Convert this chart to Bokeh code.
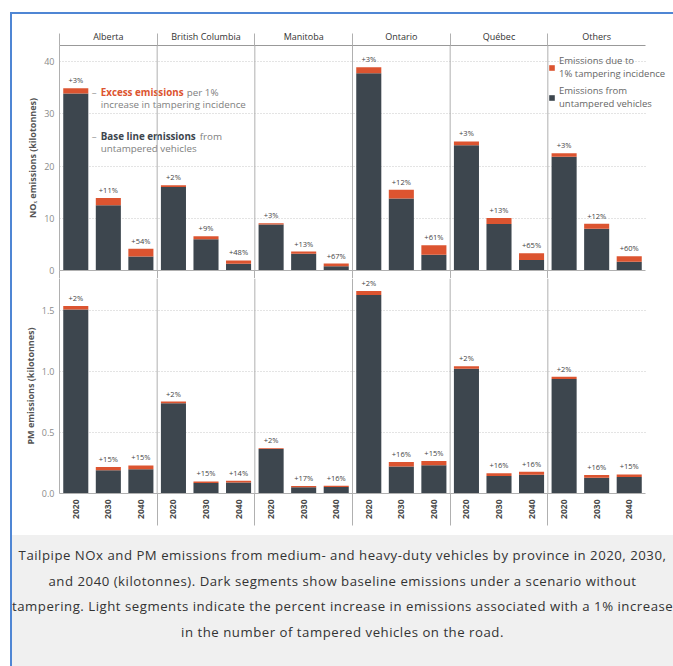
import math
from bokeh.plotting import figure
from bokeh.models import (Range1d, LinearAxis, FixedTicker, Span, PrintfTickFormatter,
                          Legend, LegendItem, Div, ColumnDataSource)
from bokeh.layouts import column
from bokeh.embed import file_html
from bokeh.resources import INLINE
from bokeh.core.properties import value

# ---------------- data ----------------
provinces = ["Alberta", "British Columbia", "Manitoba", "Ontario", "Québec", "Others"]
years = ["2020", "2030", "2040"]

nox_base = [33.9, 12.5, 2.7, 16.0, 6.0, 1.3, 8.8, 3.2, 0.8,
            37.8, 13.8, 3.0, 24.0, 8.9, 2.0, 21.8, 8.0, 1.7]
nox_excess = [1.0, 1.4, 1.46, 0.35, 0.55, 0.62, 0.27, 0.42, 0.52,
              1.13, 1.66, 1.83, 0.72, 1.15, 1.3, 0.65, 0.96, 1.02]
nox_pct = ["+3%", "+11%", "+54%", "+2%", "+9%", "+48%", "+3%", "+13%", "+67%",
           "+3%", "+12%", "+61%", "+3%", "+13%", "+65%", "+3%", "+12%", "+60%"]

pm_base = [1.51, 0.19, 0.20, 0.74, 0.086, 0.091, 0.365, 0.052, 0.054,
           1.63, 0.222, 0.232, 1.025, 0.144, 0.153, 0.94, 0.13, 0.135]
pm_excess = [0.03, 0.028, 0.03, 0.015, 0.013, 0.013, 0.007, 0.0088, 0.0087,
             0.033, 0.036, 0.035, 0.02, 0.023, 0.025, 0.019, 0.021, 0.021]
pm_pct = ["+2%", "+15%", "+15%", "+2%", "+15%", "+14%", "+2%", "+17%", "+16%",
          "+2%", "+16%", "+15%", "+2%", "+16%", "+16%", "+2%", "+16%", "+15%"]

nox_ticks = [0, 10, 20, 30, 40]
pm_ticks = [0.0, 0.5, 1.0, 1.5]

legend_labels = ["Emissions due to\n1% tampering incidence",
                 "Emissions from\nuntampered vehicles"]

caption_lines = [
    "Tailpipe NOx and PM emissions from medium- and heavy-duty vehicles by province in 2020, 2030,",
    "and 2040 (kilotonnes). Dark segments show baseline emissions under a scenario without",
    "tampering. Light segments indicate the percent increase in emissions associated with a 1% increase",
    "in the number of tampered vehicles on the road.",
]

# ---------------- styles ----------------
DARK = "#3d464e"
RED = "#dc5430"
FONT = "Open Sans"
SEP = "#b0b0b0"

factors = [(p, y) for p in provinces for y in years]
n = len(factors)
ny = len(years)
xpos = [i + 0.5 for i in range(n)]   # slot centre of each (province, year)
bounds_ticks = [k * ny for k in range(len(provinces))]   # panel left edges

# frame: panels occupy 586 px, frame continues 28 px further right (room for legend)
PANEL_W, FRAME_W = 586, 614
x_end = n * FRAME_W / PANEL_W

src = ColumnDataSource(dict(
    x=xpos,
    nox_base=nox_base,
    nox_top=[b + e for b, e in zip(nox_base, nox_excess)],
    nox_pct=nox_pct,
    pm_base=pm_base,
    pm_top=[b + e for b, e in zip(pm_base, pm_excess)],
    pm_pct=pm_pct,
))


def style_common(p, ticks, label):
    p.outline_line_color = None
    p.xgrid.visible = False
    p.ygrid.grid_line_color = "#c8c8c8"
    p.ygrid.grid_line_dash = "1 2"
    p.ygrid.cross_bounds = (0, n)
    p.yaxis.ticker = FixedTicker(ticks=ticks)
    p.yaxis.axis_line_color = SEP
    p.yaxis.major_tick_line_color = None
    p.yaxis.major_tick_out = 0
    p.yaxis.major_tick_in = 0
    p.yaxis.minor_tick_line_color = None
    p.yaxis.minor_tick_out = 0
    p.yaxis.major_label_text_font = FONT
    p.yaxis.major_label_text_font_size = "9px"
    p.yaxis.major_label_text_color = "#8a8a8a"
    p.yaxis.major_label_standoff = 5
    p.yaxis.axis_label = label
    p.yaxis.axis_label_text_font = FONT
    p.yaxis.axis_label_text_font_size = "9px"
    p.yaxis.axis_label_text_font_style = "bold"
    p.yaxis.axis_label_text_color = "#555555"
    p.yaxis.axis_label_standoff = 2
    for k in bounds_ticks[1:]:
        p.add_layout(Span(location=k, dimension="height",
                          line_color=SEP, line_width=1))


# ---------------- top (NOx) ----------------
top = figure(width=661, height=264, x_range=Range1d(0, x_end), y_range=Range1d(0, 43.1),
             x_axis_location=None, output_backend="svg", toolbar_location=None,
             min_border_left=47, min_border_right=0, min_border_top=31,
             min_border_bottom=8)
style_common(top, nox_ticks, "NOₓ emissions (kilotonnes)")

r_base = top.vbar(x="x", top="nox_base", bottom=0, width=0.77, source=src,
                  fill_color=DARK, line_color=None)
r_exc = top.vbar(x="x", top="nox_top", bottom="nox_base", width=0.77, source=src,
                 fill_color=RED, line_color=None)
top.text(x="x", y="nox_top", text="nox_pct", source=src, y_offset=-3,
         text_align="center", text_baseline="bottom", text_font=value(FONT),
         text_font_size="7.5px", text_color="#444444")

prov_axis = LinearAxis(
    bounds=(0, n),
    ticker=FixedTicker(ticks=[k + ny / 2 for k in bounds_ticks],
                       minor_ticks=bounds_ticks),
    major_label_overrides={k + ny / 2: p for k, p in zip(bounds_ticks, provinces)},
    major_tick_out=0, major_tick_in=0, major_tick_line_color=None,
    minor_tick_out=0, minor_tick_in=-12, minor_tick_line_color=SEP,
    axis_line_color="#999999", major_label_standoff=3,
    major_label_text_font=FONT, major_label_text_font_size="9px",
    major_label_text_color="#333333")
top.add_layout(prov_axis, "above")

# baseline of the upper panel (no labels; its ticks continue the separators)
base_axis = LinearAxis(
    bounds=(0, n),
    ticker=FixedTicker(ticks=[], minor_ticks=bounds_ticks),
    major_tick_out=0, major_tick_in=0, major_label_text_font_size="0px",
    minor_tick_out=0, minor_tick_in=-8, minor_tick_line_color=SEP,
    axis_line_color=SEP, major_label_standoff=0)
top.add_layout(base_axis, "below")

# annotations in the Alberta panel
first = [xpos[0]]
ann_common = dict(text_font=value(FONT), text_font_size="9.8px", text_baseline="middle")
top.text(x=first * 2, y=[34.05, 25.6], text=["–", "–"], x_offset=16,
         text_color="#999999", **ann_common)
top.text(x=first, y=[34.05], text=["Excess emissions"], x_offset=25,
         text_color=RED, text_font_style="bold", **ann_common)
top.text(x=first, y=[34.05], text=["per 1%"], x_offset=111,
         text_color="#808080", **ann_common)
top.text(x=first, y=[31.8], text=["increase in tampering incidence"], x_offset=25,
         text_color="#808080", **ann_common)
top.text(x=first, y=[25.6], text=["Base line emissions"], x_offset=25,
         text_color="#3d464e", text_font_style="bold", **ann_common)
top.text(x=first, y=[25.6], text=["from"], x_offset=124,
         text_color="#808080", **ann_common)
top.text(x=first, y=[23.3], text=["untampered vehicles"], x_offset=25,
         text_color="#808080", **ann_common)

legend = Legend(items=[LegendItem(label=legend_labels[0], renderers=[r_exc]),
                       LegendItem(label=legend_labels[1], renderers=[r_base])],
                location=(489, 160), orientation="vertical",
                background_fill_alpha=0, border_line_color=None,
                label_text_font=FONT, label_text_font_size="9.5px",
                label_text_color="#666666", glyph_width=7, glyph_height=7,
                label_standoff=4, spacing=4, padding=0, margin=0,
                label_height=20)
top.add_layout(legend, "center")

# ---------------- bottom (PM) ----------------
bot = figure(width=661, height=257, x_range=top.x_range, y_range=Range1d(0, 1.765),
             x_axis_location=None, output_backend="svg", toolbar_location=None,
             min_border_left=47, min_border_right=0, min_border_top=0,
             min_border_bottom=42)
style_common(bot, pm_ticks, "PM emissions (kilotonnes)")
bot.yaxis.formatter = PrintfTickFormatter(format="%.1f")

bot.vbar(x="x", top="pm_base", bottom=0, width=0.77, source=src,
         fill_color=DARK, line_color=None)
bot.vbar(x="x", top="pm_top", bottom="pm_base", width=0.77, source=src,
         fill_color=RED, line_color=None)
bot.text(x="x", y="pm_top", text="pm_pct", source=src, y_offset=-3,
         text_align="center", text_baseline="bottom", text_font=value(FONT),
         text_font_size="7.5px", text_color="#444444")

year_axis = LinearAxis(
    bounds=(0, n),
    ticker=FixedTicker(ticks=xpos, minor_ticks=bounds_ticks[1:]),
    major_label_overrides={x: f[1] for x, f in zip(xpos, factors)},
    major_label_orientation=math.pi / 2,
    major_tick_out=0, major_tick_in=0, major_tick_line_color=None,
    minor_tick_out=0, minor_tick_in=-32, minor_tick_line_color=SEP,
    axis_line_color=SEP, major_label_standoff=6,
    major_label_text_font=FONT, major_label_text_font_size="8.5px",
    major_label_text_font_style="bold", major_label_text_color="#4a4a4a")
bot.add_layout(year_axis, "below")

caption = Div(
    text=('<div style="width:661px;height:131px;box-sizing:border-box;'
          'background:#f0f0f0;text-align:center;white-space:nowrap;overflow:hidden;'
          'font-family:\'Open Sans\';font-size:13.2px;letter-spacing:0.52px;'
          'line-height:25.7px;color:#333;padding-top:8px;">'
          + "<br>".join(caption_lines) + '</div>'),
    width=661, height=131, margin=0)

layout = column(top, bot, caption, spacing=0, margin=(12, 0, 0, 10),
                styles={"border-top": "2px solid #4f86d4",
                        "border-left": "2px solid #4f86d4"})

open("out.html", "w").write(file_html(layout, INLINE))
